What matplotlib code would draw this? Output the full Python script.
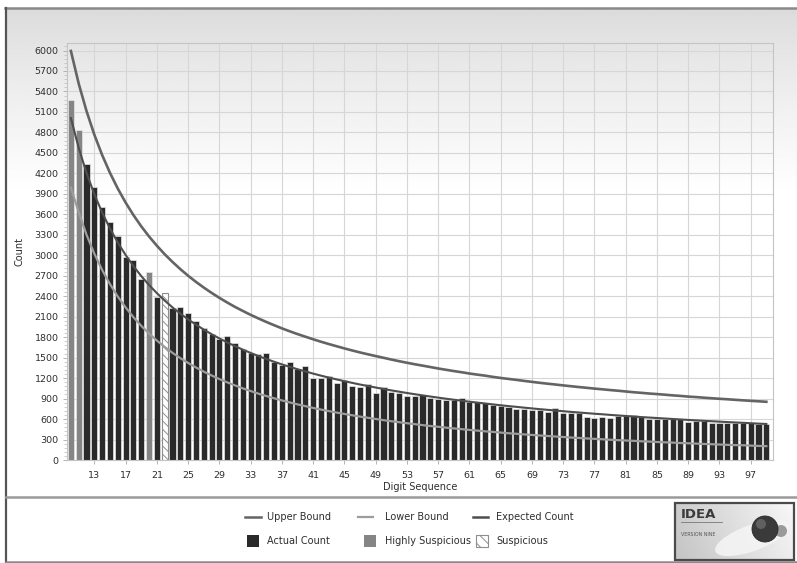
import numpy as np
import matplotlib
matplotlib.use("Agg")
import matplotlib.pyplot as plt
from matplotlib.patches import Rectangle, Circle, Ellipse
from matplotlib.lines import Line2D
from matplotlib.ticker import MultipleLocator, FixedLocator

plt.rcParams['font.family'] = ['DejaVu Sans']
plt.rcParams['hatch.linewidth'] = 0.7

# ---- data -----------------------------------------------------------------
digits = list(range(10, 100))

actual_count = [5280, 4830, 4340, 3995, 3700, 3490, 3275, 2980, 2925, 2655,
                2760, 2395, 2440, 2230, 2245, 2150, 2030, 1930, 1850, 1775,
                1810, 1715, 1630, 1570, 1550, 1570, 1430, 1390, 1435, 1335,
                1380, 1200, 1200, 1225, 1135, 1165, 1085, 1075, 1110, 980,
                1075, 1000, 988, 940, 935, 950, 905, 895, 885, 875,
                905, 856, 846, 835, 810, 790, 775, 740, 745, 735,
                728, 710, 768, 690, 685, 685, 626, 612, 626, 620,
                645, 645, 660, 626, 597, 597, 597, 597, 597, 562,
                572, 570, 548, 548, 548, 538, 538, 538, 528, 523]

expected_count = [5009, 4572, 4206, 3894, 3626, 3392, 3186, 3004, 2841, 2695,
                  2564, 2445, 2336, 2236, 2145, 2061, 1983, 1911, 1844, 1781,
                  1723, 1668, 1617, 1569, 1523, 1480, 1440, 1401, 1365, 1330,
                  1298, 1266, 1236, 1208, 1181, 1155, 1130, 1106, 1084, 1062,
                  1041, 1020, 1001, 982, 964, 947, 930, 914, 898, 883,
                  869, 854, 841, 828, 815, 802, 790, 779, 767, 756,
                  745, 735, 725, 715, 705, 696, 687, 678, 670, 661,
                  653, 645, 637, 629, 622, 615, 608, 601, 594, 587,
                  581, 574, 568, 562, 556, 550, 545, 539, 533, 528]

upper_bound = [5993, 5514, 5112, 4766, 4468, 4207, 3977, 3772, 3589, 3424,
               3275, 3140, 3015, 2902, 2797, 2700, 2610, 2527, 2449, 2376,
               2308, 2243, 2184, 2127, 2074, 2023, 1975, 1929, 1886, 1845,
               1807, 1769, 1733, 1699, 1667, 1635, 1605, 1576, 1549, 1523,
               1498, 1472, 1448, 1425, 1403, 1383, 1362, 1341, 1322, 1303,
               1286, 1267, 1251, 1236, 1218, 1202, 1188, 1174, 1159, 1145,
               1131, 1118, 1106, 1093, 1081, 1069, 1058, 1046, 1036, 1025,
               1015, 1004, 993, 984, 974, 966, 957, 947, 939, 929,
               922, 913, 905, 897, 890, 882, 874, 867, 860, 853]

lower_bound = [3990, 3630, 3300, 3022, 2784, 2577, 2395, 2236, 2093, 1966,
               1853, 1750, 1657, 1570, 1493, 1422, 1356, 1295, 1239, 1186,
               1138, 1093, 1050, 1011, 972, 937, 905, 873, 844, 815,
               789, 763, 739, 717, 695, 675, 655, 636, 619, 601,
               584, 568, 554, 539, 525, 511, 498, 487, 474, 463,
               452, 441, 431, 420, 412, 402, 392, 384, 375, 367,
               359, 352, 344, 337, 329, 323, 316, 310, 304, 297,
               291, 286, 281, 274, 270, 264, 259, 255, 249, 245,
               240, 235, 231, 227, 222, 218, 216, 211, 206, 203]

highly_suspicious = [10, 11, 20]
suspicious = [22]

x_ticks = list(range(13, 98, 4))
y_ticks = list(range(0, 6001, 300))

# ---- colours --------------------------------------------------------------
C_ACTUAL = '#2a2a2a'
C_HIGH = '#858585'
C_SUSP_EDGE = '#8e8e8e'
C_UPPER = '#646464'
C_LOWER = '#9c9c9c'
C_EXPECTED = '#4e4e4e'
C_TEXT = '#2e2e2e'

W, H = 797, 563
fig = plt.figure(figsize=(W / 100, H / 100), dpi=100)
fig.patch.set_facecolor('white')

# background layer in pixel coordinates
bg = fig.add_axes([0, 0, 1, 1], zorder=0)
bg.set_xlim(0, W)
bg.set_ylim(H, 0)
bg.axis('off')

# vertical grey gradient of the chart panel
rows = np.linspace(0, 1, 400)
shade = 0.855 + 0.145 * np.clip(rows / 0.38, 0, 1) ** 0.8
grad = np.repeat(shade[:, None], 4, axis=1)
bg.imshow(grad, cmap='gray', vmin=0, vmax=1, extent=[6, W, 497, 8],
          aspect='auto', interpolation='bilinear', zorder=0)

# panel borders
bg.add_line(Line2D([5, W], [8, 8], color='#8a8a8a', lw=1.8, zorder=2))
bg.add_line(Line2D([6, 6], [8, H], color='#555555', lw=1.6, zorder=2))
bg.add_line(Line2D([6, W], [497, 497], color='#9a9a9a', lw=1.8, zorder=2))
bg.add_line(Line2D([6, W], [562, 562], color='#8a8a8a', lw=1.8, zorder=2))

# ---- main plot ------------------------------------------------------------
left, right, top, bottom = 67, 773, 43, 460
ax = fig.add_axes([left / W, 1 - bottom / H, (right - left) / W, (bottom - top) / H],
                  zorder=1)
ax.set_facecolor('none')

bar_w = 0.78
normal_x = [d for d in digits if d not in highly_suspicious and d not in suspicious]
normal_y = [actual_count[digits.index(d)] for d in normal_x]
high_y = [actual_count[digits.index(d)] for d in highly_suspicious]
susp_y = [actual_count[digits.index(d)] for d in suspicious]

ax.bar(normal_x, normal_y, width=bar_w, color=C_ACTUAL, edgecolor='#e6e6e6',
       linewidth=0.5, zorder=2)
ax.bar(highly_suspicious, high_y, width=bar_w, color=C_HIGH, edgecolor='#e6e6e6',
       linewidth=0.5, zorder=2)
ax.bar(suspicious, susp_y, width=bar_w, color='white', edgecolor=C_SUSP_EDGE,
       hatch='\\\\\\\\', linewidth=0.8, zorder=2)

ax.plot(digits, upper_bound, color=C_UPPER, lw=1.9, zorder=3)
ax.plot(digits, lower_bound, color=C_LOWER, lw=1.6, zorder=3)
ax.plot(digits, expected_count, color=C_EXPECTED, lw=1.5, zorder=3)

ax.set_xlim(9.5, 99.85)
ax.set_ylim(0, 6110)
ax.xaxis.set_major_locator(FixedLocator(x_ticks))
ax.yaxis.set_major_locator(FixedLocator(y_ticks))
ax.yaxis.set_minor_locator(MultipleLocator(60))
ax.set_axisbelow(True)
ax.grid(True, which='major', color='#d6d6d6', lw=0.8)

ax.tick_params(axis='both', which='major', labelsize=6.8, colors=C_TEXT,
               length=3, width=0.6, pad=3)
ax.tick_params(axis='x', which='major', pad=5, color='#aaaaaa')
ax.tick_params(axis='y', which='major', color='#aaaaaa')
ax.tick_params(axis='y', which='minor', length=2, width=0.5, color='#bbbbbb')
for s in ax.spines.values():
    s.set_color('#c4c4c4')
    s.set_linewidth(0.8)

ax.set_xlabel('Digit Sequence', fontsize=7, color=C_TEXT, labelpad=1)
ax.set_ylabel('Count', fontsize=7, color=C_TEXT, labelpad=7)

# ---- legend panel -----------------------------------------------------------
fs_leg = 7
row1, row2 = 517, 541
col_line = [(245, 261), (358, 373), (473, 488)]
col_text = [267, 385, 496]
line_items = [('Upper Bound', C_UPPER, 1.8), ('Lower Bound', C_LOWER, 1.6),
              ('Expected Count', C_EXPECTED, 1.8)]
for (x0, x1), tx, (label, col, lw) in zip(col_line, col_text, line_items):
    bg.add_line(Line2D([x0, x1], [row1, row1], color=col, lw=lw, zorder=3))
    bg.text(tx, row1, label, fontsize=fs_leg, color=C_TEXT, va='center', ha='left')

sq = 12
bg.add_patch(Rectangle((247, row2 - sq / 2), sq, sq, facecolor=C_ACTUAL,
                       edgecolor='none', zorder=3))
bg.text(col_text[0], row2, 'Actual Count', fontsize=fs_leg, color=C_TEXT,
        va='center', ha='left')
bg.add_patch(Rectangle((364, row2 - sq / 2), sq, sq, facecolor=C_HIGH,
                       edgecolor='none', zorder=3))
bg.text(col_text[1], row2, 'Highly Suspicious', fontsize=fs_leg, color=C_TEXT,
        va='center', ha='left')
bg.add_patch(Rectangle((476, row2 - sq / 2), sq, sq, facecolor='white',
                       edgecolor=C_SUSP_EDGE, hatch='\\\\\\', lw=0.8, zorder=3))
bg.text(col_text[2], row2, 'Suspicious', fontsize=fs_leg, color=C_TEXT,
        va='center', ha='left')

# ---- product badge ---------------------------------------------------------
bx0, by0, bx1, by1 = 675, 503, 794, 560
badge = np.linspace(0.80, 0.97, 200)[None, :] * np.ones((40, 1))
badge = badge * np.linspace(1.0, 0.96, 40)[:, None]
bg.imshow(badge, cmap='gray', vmin=0, vmax=1, extent=[bx0, bx1, by1, by0],
          aspect='auto', interpolation='bilinear', zorder=3)
bg.add_patch(Rectangle((bx0, by0), bx1 - bx0, by1 - by0, facecolor='none',
                       edgecolor='#4a4a4a', lw=1.6, zorder=6))
bg.add_patch(Ellipse((752, 538), 78, 26, angle=-20, facecolor='#f4f4f4',
                     edgecolor='none', alpha=0.9, zorder=4))
bg.add_patch(Circle((765, 529), 13, facecolor='#3a3a3a', edgecolor='#2a2a2a',
                    lw=0.6, zorder=5))
bg.add_patch(Circle((761, 524), 5, facecolor='#6a6a6a', edgecolor='none',
                    alpha=0.8, zorder=5))
bg.add_patch(Circle((781, 531), 6, facecolor='#9a9a9a', edgecolor='none', zorder=4))
bg.text(681, 515, 'IDEA', fontsize=9.5, fontweight='bold', color='#3a3a3a',
        va='center', ha='left', zorder=6)
bg.add_line(Line2D([681, 722], [522, 522], color='#777777', lw=0.6, zorder=6))
bg.text(681, 535, 'VERSION NINE', fontsize=3.4, color='#555555',
        va='center', ha='left', zorder=6)

fig.savefig('out.png', dpi=100, facecolor='white')
